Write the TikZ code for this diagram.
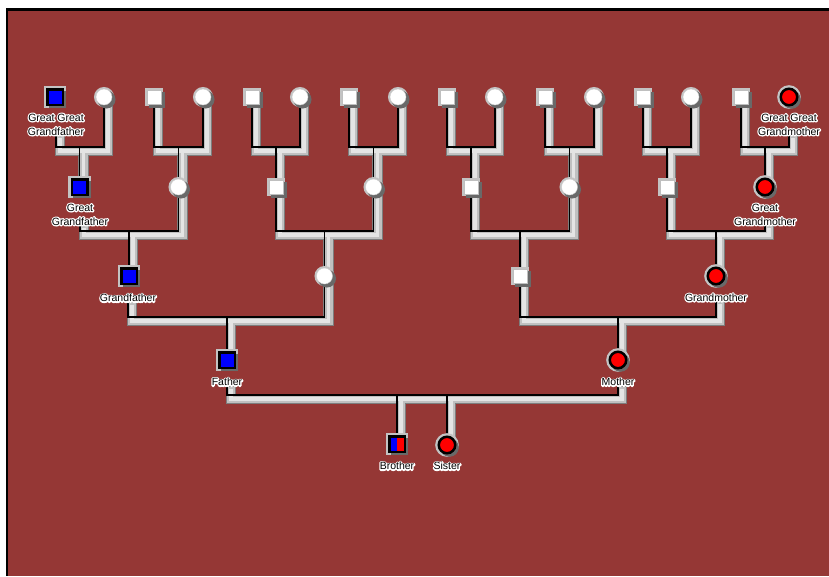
\documentclass[tikz,border=0pt]{standalone}
\usepackage{fontspec}
\setmainfont{Liberation Sans}
\pgfdeclarelayer{bgl}
\pgfdeclarelayer{bandl}
\pgfdeclarelayer{linel}
\pgfsetlayers{bgl,bandl,linel,main}
\definecolor{bg}{RGB}{149,55,53}
\definecolor{bandout}{RGB}{125,125,125}
\definecolor{bandmid}{RGB}{192,192,192}
\definecolor{bandin}{RGB}{228,228,228}
\definecolor{mblue}{RGB}{0,0,255}
\definecolor{fred}{RGB}{255,0,0}
\definecolor{shadowc}{RGB}{105,105,105}
\definecolor{haloc}{RGB}{195,195,195}
\tikzset{
  every node/.style={inner sep=0pt},
  hal/.style={preaction={draw=haloc, line width=#1}},
  hal/.default=5pt,
  shd/.style={preaction={fill=shadowc, draw=shadowc, line width=2pt, transform canvas={xshift=2.5pt,yshift=-2.5pt}}},
  bsq/.style={rectangle, minimum size=15.5pt, fill=mblue, draw=black, line width=2.5pt, hal=7pt, shd},
  wsq/.style={rectangle, minimum size=14pt, fill=white, draw=black!25, line width=0.4pt, hal=4pt, shd},
  wcirc/.style={circle, minimum size=16pt, fill=white, draw=black!20, line width=0.4pt, hal=4pt, shd},
  rcirc/.style={circle, minimum size=16.5pt, fill=fred, draw=black, line width=2.5pt, hal=7pt, shd},
  brosq/.style={rectangle, minimum size=15.5pt, draw=black, line width=2.5pt, hal=7pt, shd,
    path picture={\fill[mblue] (path picture bounding box.south west) rectangle (path picture bounding box.north);
                  \fill[fred] (path picture bounding box.north) rectangle (path picture bounding box.south east);}},
  lab/.style={font=\fontsize{10.5}{14}\selectfont, align=center, inner sep=0.6pt},
  bandA/.style={line width=10.5pt, draw=bandout, line cap=rect, transform canvas={xshift=4pt,yshift=-4pt}},
  bandB/.style={line width=8pt, draw=bandmid, line cap=rect, transform canvas={xshift=4pt,yshift=-4pt}},
  bandC/.style={line width=3.5pt, draw=bandin, line cap=rect, transform canvas={xshift=4pt,yshift=-4pt}},
  blk/.style={line width=1.8pt, draw=black},
}
\newcommand\strokeon{\special{pdf:literal direct 1 Tr 2.6 w 1 j 1 1 1 RG}}
\newcommand\strokeoff{\special{pdf:literal direct 0 Tr 0 0 0 RG}}
\newcommand\hlab[3]{%
  \node[lab] at (#2) {\strokeon #3\strokeoff};%
  \node[lab] (#1) at (#2) {#3};}
\newcommand\conn[1]{%
  \begin{pgfonlayer}{bandl}\draw[bandA] #1; \draw[bandB] #1; \draw[bandC] #1;\end{pgfonlayer}%
  \begin{pgfonlayer}{linel}\draw[blk] #1;\end{pgfonlayer}}
\newcommand\famconn[4]{\conn{(#1.south) -- (#1.south |- 0,#4) -- (#2.south |- 0,#4) -- (#2.south) (#3.north |- 0,#4) -- (#3.north)}}
\begin{document}
\begin{tikzpicture}[x=1pt,y=-1pt]
\begin{pgfonlayer}{bgl}
  \fill[white] (0,0) rectangle (829,576);
  \fill[black] (5.5,8) rectangle (829,576);
  \fill[bg] (7.5,10.5) rectangle (829,576);
\end{pgfonlayer}
\useasboundingbox (0,0) rectangle (829,576);
% row 1
\node[bsq]   (gg1)  at (55,97) {};
\node[wcirc] (gg2)  at (104,97) {};
\node[wsq]   (gg3)  at (154,97) {};
\node[wcirc] (gg4)  at (203,97) {};
\node[wsq]   (gg5)  at (252,97) {};
\node[wcirc] (gg6)  at (300,97) {};
\node[wsq]   (gg7)  at (349,97) {};
\node[wcirc] (gg8)  at (398,97) {};
\node[wsq]   (gg9)  at (447,97) {};
\node[wcirc] (gg10) at (495,97) {};
\node[wsq]   (gg11) at (545,97) {};
\node[wcirc] (gg12) at (594,97) {};
\node[wsq]   (gg13) at (643,97) {};
\node[wcirc] (gg14) at (691,97) {};
\node[wsq]   (gg15) at (741,97) {};
\node[rcirc] (gg16) at (789,97) {};
% row 2
\node[bsq]   (g1) at (79.5,187) {};
\node[wcirc] (g2) at (178.5,187) {};
\node[wsq]   (g3) at (276,187) {};
\node[wcirc] (g4) at (373.5,187) {};
\node[wsq]   (g5) at (471,187) {};
\node[wcirc] (g6) at (569.5,187) {};
\node[wsq]   (g7) at (667,187) {};
\node[rcirc] (g8) at (765,187) {};
% row 3
\node[bsq]   (gp1) at (129,276) {};
\node[wcirc] (gp2) at (324.5,276) {};
\node[wsq]   (gp3) at (520,276) {};
\node[rcirc] (gp4) at (716,276) {};
% row 4
\node[bsq]   (father) at (227,360) {};
\node[rcirc] (mother) at (618,360) {};
% children
\node[brosq] (brother) at (397,444) {};
\node[rcirc] (sister)  at (447,445) {};
% labels
\hlab{lgg1}{56,124.5}{Great Great\\Grandfather}
\hlab{lgg16}{789,124.5}{Great Great\\Grandmother}
\hlab{lg1}{80,214.5}{Great\\Grandfather}
\hlab{lg8}{765,214.5}{Great\\Grandmother}
\hlab{lgp1}{128,298}{Grandfather}
\hlab{lgp4}{716,297.5}{Grandmother}
\hlab{lfather}{227,382}{Father}
\hlab{lmother}{618,382}{Mother}
\hlab{lbrother}{397,466}{Brother}
\hlab{lsister}{447,466}{Sister}
% connectors
\famconn{lgg1}{gg2}{g1}{147}
\famconn{gg3}{gg4}{g2}{147}
\famconn{gg5}{gg6}{g3}{147}
\famconn{gg7}{gg8}{g4}{147}
\famconn{gg9}{gg10}{g5}{147}
\famconn{gg11}{gg12}{g6}{147}
\famconn{gg13}{gg14}{g7}{147}
\famconn{gg15}{lgg16}{g8}{147}
\famconn{lg1}{g2}{gp1}{231}
\famconn{g3}{g4}{gp2}{231}
\famconn{g5}{g6}{gp3}{231}
\famconn{g7}{lg8}{gp4}{231}
\famconn{lgp1}{gp2}{father}{317}
\famconn{gp3}{lgp4}{mother}{317}
\conn{(lfather.south) -- (lfather.south |- 0,395) -- (lmother.south |- 0,395) -- (lmother.south) (brother.north |- 0,395) -- (brother.north) (sister.north |- 0,395) -- (sister.north)}
\end{tikzpicture}
\end{document}
